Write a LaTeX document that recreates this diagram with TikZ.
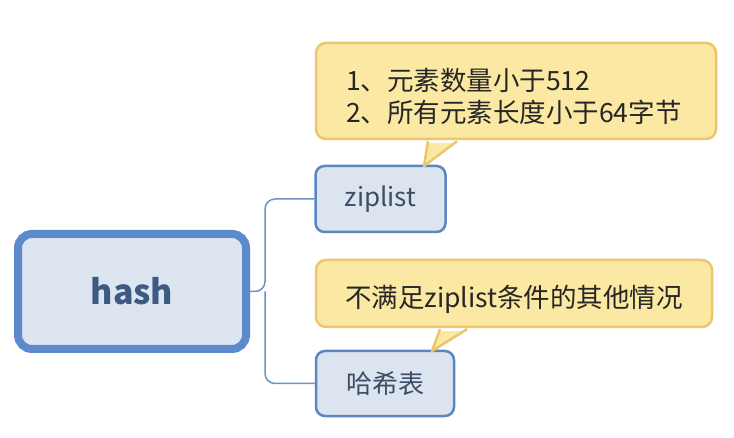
\documentclass[tikz,border=0pt]{standalone}
\usepackage{fontspec}
\setmainfont{Noto Sans CJK SC}
\definecolor{hashfill}{HTML}{DDE5F1}
\definecolor{hashline}{HTML}{5D8ACB}
\definecolor{hashtext}{HTML}{3D5A82}
\definecolor{boxfill}{HTML}{DCE4F0}
\definecolor{boxline}{HTML}{5B86BF}
\definecolor{boxtext}{HTML}{3E4E66}
\definecolor{notefill}{HTML}{FBE9A3}
\definecolor{noteline}{HTML}{EDC56A}
\definecolor{linkcol}{HTML}{6A93C9}
\begin{document}
\begin{tikzpicture}[x=1pt,y=-1pt,
  rootbox/.style={draw=hashline,fill=hashfill,line width=8pt,rounded corners=14pt,
    minimum width=228pt,minimum height=115pt,inner sep=0pt,text=hashtext,
    font=\fontsize{34}{40}\selectfont\bfseries},
  leafbox/.style={draw=boxline,fill=boxfill,line width=2.5pt,rounded corners=9pt,
    minimum height=66pt,inner sep=0pt,text=boxtext,font=\fontsize{26}{30}\selectfont},
  notebox/.style={draw=noteline,fill=notefill,line width=2.5pt,rounded corners=10pt,
    inner ysep=0pt,text=black!85,font=\fontsize{26.5}{32}\selectfont},
  link/.style={draw=linkcol,line width=1.5pt,rounded corners=10pt}]
\useasboundingbox[fill=white] (0,0) rectangle (734,438);

\node[rootbox] (h) at (132,291.5) {hash};
\node[leafbox,minimum width=130pt] (z) at (380.5,199) {ziplist};
\node[leafbox,minimum width=138pt,minimum height=65pt] (t) at (385,383.5) {哈希表};

\coordinate (j) at (265,291.5);
\draw[link] (h.east) -- (j) |- (z.west);
\draw[link] (j) |- (t.west);

\node[notebox,text width=340pt,inner xsep=30pt,minimum height=96pt,align=left] (n1) at (516,91)
  {\rule{0pt}{34pt}1、元素数量小于512\\2、所有元素长度小于64字节};
\node[notebox,minimum width=396pt,minimum height=67pt] (n2) at (514,293.5)
  {\rule{0pt}{34pt}不满足ziplist条件的其他情况};

\coordinate (p1) at (424,166);
\coordinate (p2) at (432,351);
\fill[notefill] ([xshift=-88pt,yshift=-3pt]n1.south) -- ([xshift=-88pt]n1.south) -- (p1)
  -- ([xshift=-59pt]n1.south) -- ([xshift=-59pt,yshift=-3pt]n1.south) -- cycle;
\draw[noteline,line width=2.5pt,line join=round] ([xshift=-88pt,yshift=-1pt]n1.south) -- (p1) -- ([xshift=-59pt,yshift=-1pt]n1.south);
\fill[notefill] ([xshift=-74pt,yshift=-3pt]n2.south) -- ([xshift=-74pt]n2.south) -- (p2)
  -- ([xshift=-47pt]n2.south) -- ([xshift=-47pt,yshift=-3pt]n2.south) -- cycle;
\draw[noteline,line width=2.5pt,line join=round] ([xshift=-74pt,yshift=-1pt]n2.south) -- (p2) -- ([xshift=-47pt,yshift=-1pt]n2.south);
\end{tikzpicture}
\end{document}
